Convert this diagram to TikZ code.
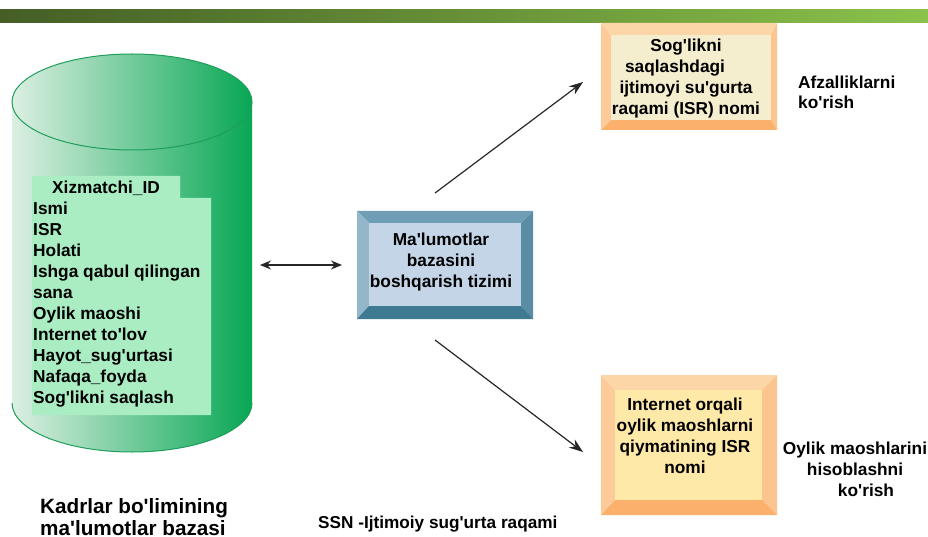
\documentclass[tikz,border=0pt]{standalone}
\usepackage{fontspec}
\newfontfamily\lsb{Liberation Sans}
\usetikzlibrary{arrows.meta}
\definecolor{barL}{HTML}{445E25}
\definecolor{barR}{HTML}{8AC24A}
\definecolor{cylA}{HTML}{DCEFE2}
\definecolor{cylB}{HTML}{8ED1A8}
\definecolor{cylC}{HTML}{08A754}
\definecolor{cylEdge}{HTML}{1E9E5A}
\definecolor{listBg}{HTML}{AAEDC3}
\definecolor{dbTop}{HTML}{6F9DB5}
\definecolor{dbLeft}{HTML}{93B6C8}
\definecolor{dbRight}{HTML}{5A8CA3}
\definecolor{dbBot}{HTML}{3E7A91}
\definecolor{dbFace}{HTML}{C4D5E8}
\definecolor{oTop}{HTML}{FDD6A8}
\definecolor{oLeft}{HTML}{FDCB9A}
\definecolor{oRight}{HTML}{FCC48E}
\definecolor{oBot}{HTML}{FBB06C}
\definecolor{oFaceA}{HTML}{F4EDCE}
\definecolor{oFaceB}{HTML}{FEE9A8}
\definecolor{arrowC}{HTML}{262626}
\begin{document}
\begin{tikzpicture}[x=1pt,y=-1pt,
  lbl/.style={font=\lsb\bfseries\fontsize{17.3}{21}\selectfont, inner sep=0pt, text=black},
  cylfill/.style={left color=cylA, middle color=cylB, right color=cylC},
  conn/.style={draw=arrowC, line width=1.2pt, -{Stealth[length=14pt,width=10pt]}},
  dconn/.style={draw=arrowC, line width=1.2pt, {Stealth[length=11pt,width=9pt]}-{Stealth[length=11pt,width=9pt]}}]
\useasboundingbox (0,0) rectangle (928,537);
\fill[white] (0,0) rectangle (928,537);
% top bar
\shade[left color=barL, right color=barR] (0,10) rectangle (928,23);
% cylinder
\shade[cylfill] (12,102) -- (12,403) arc[start angle=180, end angle=0, x radius=120, y radius=49] -- (252,102) -- cycle;
\draw[cylEdge, line width=1pt] (12,403) arc[start angle=180, end angle=0, x radius=120, y radius=49];
\shade[cylfill] (132,102) ellipse [x radius=120, y radius=48];
\draw[cylEdge, line width=1pt] (132,102) ellipse [x radius=120, y radius=48];
\fill[listBg] (32,176) -- (180,176) -- (180,198) -- (211,198) -- (211,415) -- (32,415) -- cycle;
\node[lbl, align=left, anchor=west] (fields) at (33,294) {\hspace*{19pt}Xizmatchi\_ID\\Ismi\\ISR\\Holati\\Ishga qabul qilingan\\sana\\Oylik maoshi\\Internet to'lov\\Hayot\_sug'urtasi\\Nafaqa\_foyda\\Sog'likni saqlash};
% DBMS box
\fill[dbTop] (357,211) -- (533,211) -- (521,223) -- (369,223) -- cycle;
\fill[dbLeft] (357,211) -- (369,223) -- (369,306) -- (357,319) -- cycle;
\fill[dbRight] (533,211) -- (533,319) -- (521,306) -- (521,223) -- cycle;
\fill[dbBot] (357,319) -- (533,319) -- (521,306) -- (369,306) -- cycle;
\fill[dbFace] (369,223) rectangle (521,306);
\node[lbl, align=center] (dbms) at (441,262) {Ma'lumotlar\\bazasini\\boshqarish tizimi};
% top orange box
\fill[oTop] (601,23) -- (777,23) -- (771,35) -- (611,35) -- cycle;
\fill[oLeft] (601,23) -- (611,35) -- (611,120) -- (601,130) -- cycle;
\fill[oRight] (777,23) -- (777,130) -- (771,120) -- (771,35) -- cycle;
\fill[oBot] (601,130) -- (777,130) -- (771,120) -- (611,120) -- cycle;
\fill[oFaceA] (611,35) rectangle (771,120);
\node[lbl, align=center] (isr) at (686,79) {Sog'likni\\saqlashdagi\kern22pt\\ijtimoyi su'gurta\\raqami (ISR) nomi};
% bottom orange box
\fill[oTop] (601,375) -- (777,375) -- (762,390) -- (615,390) -- cycle;
\fill[oLeft] (601,375) -- (615,390) -- (615,500) -- (601,515) -- cycle;
\fill[oRight] (777,375) -- (777,515) -- (762,500) -- (762,390) -- cycle;
\fill[oBot] (601,515) -- (777,515) -- (762,500) -- (615,500) -- cycle;
\fill[oFaceB] (615,390) rectangle (762,500);
\node[lbl, align=center] (pay) at (685,436) {Internet orqali\\oylik maoshlarni\\qiymatining ISR\\nomi};
% side labels
\node[lbl, align=left, anchor=west, font=\lsb\bfseries\fontsize{17.3}{20}\selectfont] (benef) at (798,92) {Afzalliklarni\\ko'rish};
\node[lbl, align=center] (payv) at (855,469) {Oylik maoshlarini\\hisoblashni\\\kern22pt ko'rish};
\node[lbl, align=left, anchor=west, font=\lsb\bfseries\fontsize{20.7}{21.5}\selectfont] (title) at (40,517) {Kadrlar bo'limining\\ma'lumotlar bazasi};
\node[lbl, anchor=west, font=\lsb\bfseries\fontsize{17.2}{21}\selectfont] (ssn) at (318,524) {SSN -Ijtimoiy sug'urta raqami};
% connectors
\coordinate (dbR) at (253,265);
\coordinate (dbmsL) at (357,265);
\draw[dconn, shorten <=7pt, shorten >=15pt] (dbR) -- (dbmsL);
\coordinate (up0) at (435,193);
\coordinate (up1) at (583,82);
\draw[conn] (up0) -- (up1);
\coordinate (dn0) at (435,340);
\coordinate (dn1) at (583,452);
\draw[conn] (dn0) -- (dn1);
\end{tikzpicture}
\end{document}
